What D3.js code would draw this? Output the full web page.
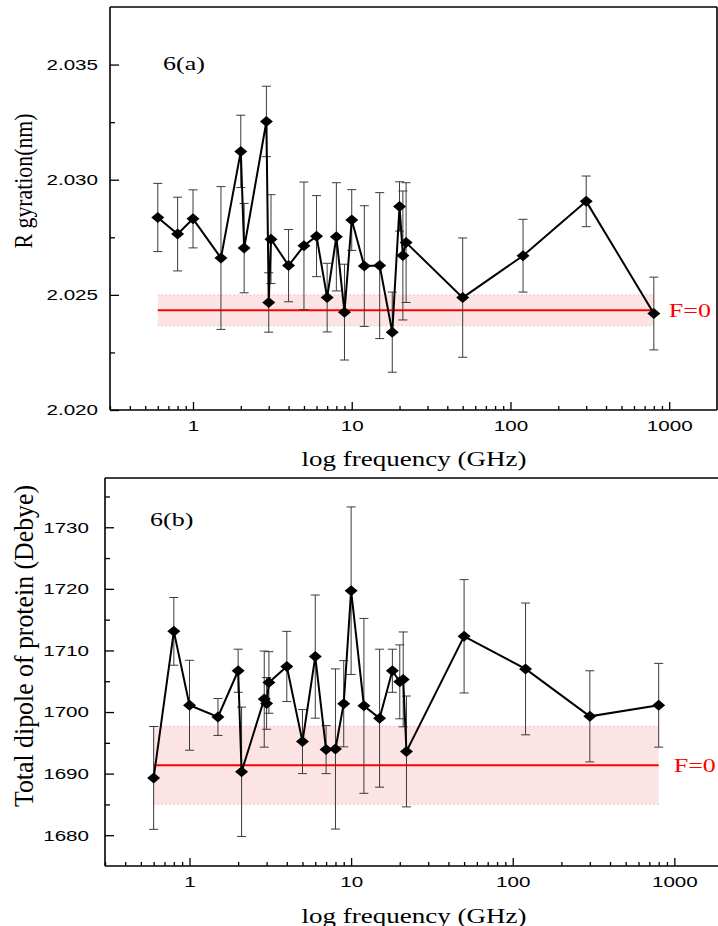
<!DOCTYPE html>
<html lang="en">
  <head>
    <meta charset="UTF-8" />
    <title>Rg and dipole vs frequency (D3)</title>
    <style>
      body {
        margin: 0;
        background: white;
      }
      svg {
        display: block;
        background: white;
      }
    </style>
  </head>
  <body>
    <svg id="chart" width="718" height="926"></svg>

    <script src="https://d3js.org/d3.v7.min.js"></script>
    <script>
      // frequencies (GHz), same for both panels
      const freq = [
        0.6, 0.8, 1, 1.5, 2, 2.1, 2.9, 3, 3.1, 4, 5, 6, 7, 8, 9, 10, 12, 15,
        18, 20, 21, 22, 50, 120, 300, 800,
      ];

      // 6(a) radius of gyration (nm)
      const rgValues = [
        2.02836, 2.02764, 2.0283, 2.0266, 2.03123, 2.02703, 2.03253, 2.02467,
        2.02742, 2.02627, 2.02713, 2.02755, 2.02488, 2.02752, 2.02425, 2.02825,
        2.02625, 2.02627, 2.02338, 2.02884, 2.02671, 2.02727, 2.02488, 2.0267,
        2.02906, 2.02419,
      ];
      const rgErrors = [
        0.00148, 0.0016, 0.00126, 0.0031, 0.00157, 0.00194, 0.00153, 0.00129,
        0.00193, 0.00157, 0.00277, 0.00176, 0.00149, 0.00235, 0.00208, 0.00132,
        0.00262, 0.00317, 0.00174, 0.00107, 0.0028, 0.0026, 0.00259, 0.00158,
        0.0011, 0.00158,
      ];
      const rgRef = [2.02433, 0.00067]; // F=0 mean, sd

      // 6(b) total dipole (Debye)
      const dipoleValues = [
        1689.3, 1713.1, 1701.1, 1699.2, 1706.7, 1690.3, 1702.1, 1701.4, 1704.8,
        1707.4, 1695.2, 1709.0, 1693.9, 1694.0, 1701.35, 1719.7, 1701.0, 1699.0,
        1706.7, 1704.9, 1705.3, 1693.6, 1712.3, 1707.0, 1699.3, 1701.1,
      ];
      const dipoleErrors = [
        8.35, 5.5, 7.3, 3.0, 3.5, 10.5, 7.8, 4.2, 5.0, 5.7, 5.2, 10.0, 3.9,
        13.0, 7.0, 13.6, 14.2, 11.2, 3.5, 6.0, 7.7, 9.0, 9.2, 10.7, 7.4, 6.8,
      ];
      const dipoleRef = [1691.35, 6.33];

      const xTicks = [1, 10, 100, 1000];
      const rgTicks = [2.02, 2.025, 2.03, 2.035];
      const rgMinor = [2.0225, 2.0275, 2.0325];
      const dipoleTicks = [1680, 1690, 1700, 1710, 1720, 1730];
      const dipoleMinor = [1685, 1695, 1705, 1715, 1725, 1735];

      const svg = d3.select("#chart");
      const SERIF = "'Liberation Serif', 'Times New Roman', serif";
      const SANS = "'Liberation Sans', Arial, sans-serif";
      const SX = 1.33; // the original picture is stretched sideways

      function stretch(sel, k) {
        sel.each(function () {
          const w = this.getComputedTextLength();
          d3.select(this)
            .attr("textLength", w * k)
            .attr("lengthAdjust", "spacingAndGlyphs");
        });
      }

      // same idea for axis labels, done with a scale transform
      function stretchTicks(sel, k) {
        sel.each(function () {
          const t = d3.select(this);
          const x0 = +t.attr("x") || 0;
          t.attr("x", x0 / k).attr("transform", `scale(${k},1)`);
        });
      }

      // minor ticks for a log axis: 2..9 in each decade
      function logMinor(domain) {
        const out = [];
        for (let p = -1; p <= 3; p++) {
          for (let m = 2; m <= 9; m++) {
            const v = m * Math.pow(10, p);
            if (v > domain[0] && v < domain[1]) out.push(v);
          }
        }
        return out;
      }

      function drawPanel(cfg) {
        const { left, right, top, bottom } = cfg.box;
        const x = d3.scaleLog().domain([0.3, 2000]).range([left, right]);
        const y = d3.scaleLinear().domain(cfg.yDomain).range([bottom, top]);
        const g = svg.append("g");

        // F=0 reference band
        const x0 = x(freq[0]),
          x1 = x(freq[freq.length - 1]);
        const [mean, sd] = cfg.ref;
        g.append("rect")
          .attr("x", x0)
          .attr("width", x1 - x0)
          .attr("y", y(mean + sd))
          .attr("height", y(mean - sd) - y(mean + sd))
          .attr("fill", "#fde4e4");
        [mean + sd, mean - sd].forEach((v) => {
          g.append("line")
            .attr("x1", x0)
            .attr("x2", x1)
            .attr("y1", y(v))
            .attr("y2", y(v))
            .attr("stroke", "#f09a9a")
            .attr("stroke-width", 1)
            .attr("stroke-dasharray", "1,3");
        });
        g.append("line")
          .attr("x1", x0)
          .attr("x2", x1)
          .attr("y1", y(mean))
          .attr("y2", y(mean))
          .attr("stroke", "#ff0000")
          .attr("stroke-width", 2);

        const pts = freq.map((f, i) => ({
          f,
          v: cfg.values[i],
          e: cfg.errors[i],
        }));

        // error bars
        const eb = g
          .append("g")
          .attr("stroke", "#3a3a3a")
          .attr("stroke-width", 1)
          .selectAll("g")
          .data(pts)
          .enter()
          .append("g");
        eb.append("line")
          .attr("x1", (d) => x(d.f))
          .attr("x2", (d) => x(d.f))
          .attr("y1", (d) => y(d.v + d.e))
          .attr("y2", (d) => y(d.v - d.e));
        eb.append("line")
          .attr("x1", (d) => x(d.f) - 4.5)
          .attr("x2", (d) => x(d.f) + 4.5)
          .attr("y1", (d) => y(d.v + d.e))
          .attr("y2", (d) => y(d.v + d.e));
        eb.append("line")
          .attr("x1", (d) => x(d.f) - 4.5)
          .attr("x2", (d) => x(d.f) + 4.5)
          .attr("y1", (d) => y(d.v - d.e))
          .attr("y2", (d) => y(d.v - d.e));

        // connecting line
        g.append("path")
          .datum(pts)
          .attr("fill", "none")
          .attr("stroke", "#000")
          .attr("stroke-width", 2)
          .attr(
            "d",
            d3
              .line()
              .x((d) => x(d.f))
              .y((d) => y(d.v))
          );

        // diamonds
        g.append("g")
          .selectAll("path")
          .data(pts)
          .enter()
          .append("path")
          .attr("d", "M0,-5.5L6.5,0L0,5.5L-6.5,0Z")
          .attr("transform", (d) => `translate(${x(d.f)},${y(d.v)})`)
          .attr("fill", "#000");

        // axes (ticks point inward)
        const xAxis = g
          .append("g")
          .attr("transform", `translate(0,${bottom})`)
          .call(
            d3
              .axisBottom(x)
              .tickValues(xTicks)
              .tickFormat(d3.format("d"))
              .tickSizeInner(-8)
              .tickSizeOuter(0)
              .tickPadding(cfg.xLabelPad)
          );
        g.append("g")
          .attr("transform", `translate(0,${bottom})`)
          .call(
            d3
              .axisBottom(x)
              .tickValues(logMinor(x.domain()))
              .tickFormat("")
              .tickSizeInner(-4)
              .tickSizeOuter(0)
          )
          .select(".domain")
          .remove();

        const yAxis = g
          .append("g")
          .attr("transform", `translate(${left},0)`)
          .call(
            d3
              .axisLeft(y)
              .tickValues(cfg.yTicks)
              .tickFormat(cfg.yFormat)
              .tickSizeInner(-9)
              .tickSizeOuter(0)
              .tickPadding(cfg.yLabelPad)
          );
        g.append("g")
          .attr("transform", `translate(${left},0)`)
          .call(
            d3
              .axisLeft(y)
              .tickValues(cfg.yMinor)
              .tickFormat("")
              .tickSizeInner(-5)
              .tickSizeOuter(0)
          )
          .select(".domain")
          .remove();

        g.selectAll(".tick line").attr("stroke", "#000").attr("stroke-width", 1.3);
        g.selectAll(".domain").remove();
        [xAxis, yAxis].forEach((a) =>
          a
            .selectAll("text")
            .attr("font-family", SANS)
            .attr("font-size", 15.5)
            .attr("fill", "#000")
        );
        stretchTicks(xAxis.selectAll("text"), SX);
        stretchTicks(yAxis.selectAll("text"), SX);

        // frame
        const frame = [
          [left, top, left, bottom],
          [left, bottom, right, bottom],
          [left, top, right, top],
        ];
        if (cfg.rightBorder) frame.push([right, top, right, bottom]);
        frame.forEach(([ax, ay, bx, by]) => {
          g.append("line")
            .attr("x1", ax)
            .attr("y1", ay)
            .attr("x2", bx)
            .attr("y2", by)
            .attr("stroke", "#000")
            .attr("stroke-width", 1.6);
        });

        // texts
        const panelLabel = g
          .append("text")
          .attr("x", cfg.labelPos[0])
          .attr("y", cfg.labelPos[1])
          .attr("font-family", SERIF)
          .attr("font-size", 19)
          .text(cfg.label);
        stretch(panelLabel, 1.37);

        const f0 = g
          .append("text")
          .attr("x", x1 + 15)
          .attr("y", y(mean) + 7)
          .attr("font-family", SERIF)
          .attr("font-size", 19)
          .attr("fill", "#ff0000")
          .text("F=0");
        stretch(f0, 1.37);

        const xt = g
          .append("text")
          .attr("x", 414)
          .attr("y", cfg.xTitleY)
          .attr("text-anchor", "middle")
          .attr("font-family", SERIF)
          .attr("font-size", 20)
          .text("log frequency (GHz)");
        stretch(xt, 1.35);

        g.append("text")
          .attr(
            "transform",
            `translate(${cfg.yTitle.x},${cfg.yTitle.y}) rotate(-90) scale(1,1.3)`
          )
          .attr("text-anchor", "middle")
          .attr("font-family", SERIF)
          .attr("font-size", cfg.yTitle.size)
          .attr("textLength", cfg.yTitle.len)
          .attr("lengthAdjust", "spacingAndGlyphs")
          .text(cfg.yTitle.text);
      }

      drawPanel({
        box: { left: 110, right: 717, top: 7, bottom: 410 },
        yDomain: [2.02, 2.0375],
        values: rgValues,
        errors: rgErrors,
        ref: rgRef,
        yTicks: rgTicks,
        yMinor: rgMinor,
        yFormat: d3.format(".3f"),
        yLabelPad: 12,
        xLabelPad: 10,
        rightBorder: true,
        label: "6(a)",
        labelPos: [163, 70],
        xTitleY: 466,
        yTitle: { x: 32, y: 181, text: "R gyration(nm)", size: 20, len: 135 },
      });

      drawPanel({
        box: { left: 105, right: 723, top: 478, bottom: 866 },
        yDomain: [1675, 1738],
        values: dipoleValues,
        errors: dipoleErrors,
        ref: dipoleRef,
        yTicks: dipoleTicks,
        yMinor: dipoleMinor,
        yFormat: d3.format("d"),
        yLabelPad: 16,
        xLabelPad: 10,
        rightBorder: false,
        label: "6(b)",
        labelPos: [150, 526],
        xTitleY: 923,
        yTitle: {
          x: 33,
          y: 646,
          text: "Total dipole of protein (Debye)",
          size: 21,
          len: 322,
        },
      });
    </script>
  </body>
</html>
